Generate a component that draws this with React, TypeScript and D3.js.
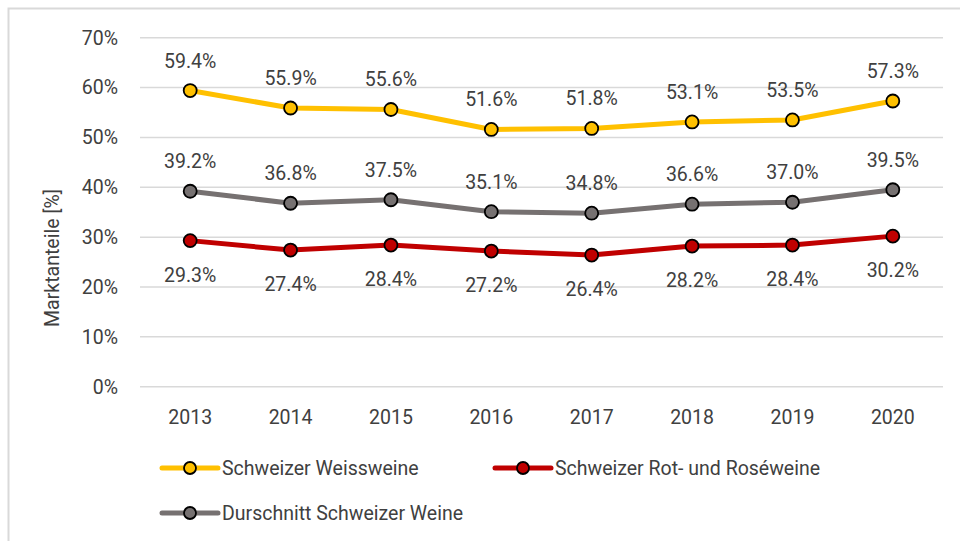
import React from "react";
import * as d3 from "d3";

const years = ["2013", "2014", "2015", "2016", "2017", "2018", "2019", "2020"];
const weiss = [59.4, 55.9, 55.6, 51.6, 51.8, 53.1, 53.5, 57.3];
const rot = [29.3, 27.4, 28.4, 27.2, 26.4, 28.2, 28.4, 30.2];
const durchschnitt = [39.2, 36.8, 37.5, 35.1, 34.8, 36.6, 37.0, 39.5];
const yTicks = [0, 10, 20, 30, 40, 50, 60, 70];
const seriesNames = ["Schweizer Weissweine", "Schweizer Rot- und Roséweine", "Durschnitt Schweizer Weine"];

const FONT = "Roboto, 'DejaVu Sans', sans-serif";
const TEXT = "#404040";
const FS = 19.5;

export default function App() {
  const W = 960, H = 541;
  const left = 140, right = 943, top = 37.7, bottom = 386.7;
  const x = d3.scaleBand<string>().domain(years).range([left, right]);
  const y = d3.scaleLinear().domain([0, 70]).range([bottom, top]);
  const cx = (yr: string) => (x(yr) as number) + x.bandwidth() / 2;

  const series = [
    { name: seriesNames[0], data: weiss, color: "#FFC000", pos: "above" },
    { name: seriesNames[1], data: rot, color: "#C00000", pos: "below" },
    { name: seriesNames[2], data: durchschnitt, color: "#767171", pos: "above" },
  ];
  const line = d3.line<number>().x((_, i) => cx(years[i])).y((v) => y(v));

  const legend = [
    { s: series[0], lx: 162, ly: 468 },
    { s: series[1], lx: 495, ly: 468 },
    { s: series[2], lx: 162, ly: 513 },
  ];

  return (
    <svg width={W} height={H} style={{ position: "absolute", left: 0, top: 0 }} fontFamily={FONT}>
      <rect x={0} y={0} width={W} height={H} fill="#fff" />
      <rect x={8.5} y={8.5} width={W + 10} height={H + 10} fill="none" stroke="#D9D9D9" strokeWidth={2} />
      {yTicks.map((t) => (
        <g key={t}>
          <line x1={left} x2={right} y1={y(t)} y2={y(t)} stroke="#D9D9D9" strokeWidth={1.5} />
          <text x={118} y={y(t)} dy="0.35em" textAnchor="end" fontSize={FS} fill={TEXT}>{t}%</text>
        </g>
      ))}
      {years.map((yr) => (
        <text key={yr} x={cx(yr)} y={424} textAnchor="middle" fontSize={FS} fill={TEXT}>{yr}</text>
      ))}
      <text transform={`translate(59,258) rotate(-90)`} textAnchor="middle" fontSize={FS} fill={TEXT}>Marktanteile [%]</text>
      {series.map((s) => (
        <g key={s.name}>
          <path d={line(s.data) as string} fill="none" stroke={s.color} strokeWidth={5} strokeLinejoin="round" />
          {s.data.map((v, i) => (
            <circle key={i} cx={cx(years[i])} cy={y(v)} r={6.5} fill={s.color} stroke="#000" strokeWidth={1.8} />
          ))}
          {s.data.map((v, i) => (
            <text key={"l" + i} x={cx(years[i])} y={s.pos === "above" ? y(v) - 23 : y(v) + 41} textAnchor="middle" fontSize={FS} fill={TEXT}>
              {v.toFixed(1)}%
            </text>
          ))}
        </g>
      ))}
      {legend.map(({ s, lx, ly }) => (
        <g key={s.name}>
          <line x1={lx} x2={lx + 56} y1={ly} y2={ly} stroke={s.color} strokeWidth={5} strokeLinecap="round" />
          <circle cx={lx + 28} cy={ly} r={6} fill={s.color} stroke="#000" strokeWidth={1.8} />
          <text x={lx + 60} y={ly} dy="0.35em" fontSize={FS} fill={TEXT}>{s.name}</text>
        </g>
      ))}
    </svg>
  );
}
